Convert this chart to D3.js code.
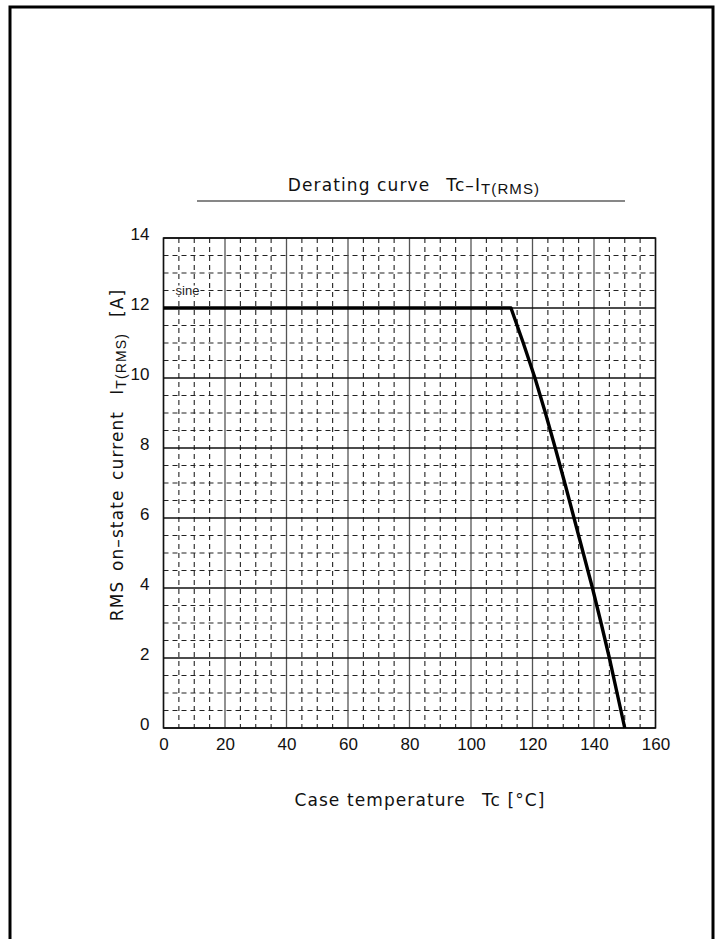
<!DOCTYPE html>
<html><head><meta charset="utf-8">
<script src="https://cdn.jsdelivr.net/npm/d3@7"></script>
<style>body{margin:0;background:#fff}svg{display:block}</style>
</head><body>
<script>
const tempC = [0, 113, 117, 120.8, 124.2, 127.4, 130.5, 133.5, 136.5, 139.5, 142.3, 145, 147.5, 150];
const currentA = [12, 12, 11, 10, 9, 8, 7, 6, 5, 4, 3, 2, 1, 0];
const xTicks = [0, 20, 40, 60, 80, 100, 120, 140, 160];
const yTicks = [0, 2, 4, 6, 8, 10, 12, 14];
const seriesLabel = "sine";

const W = 722, H = 939;
const svg = d3.select("body").append("svg").attr("width", W).attr("height", H);
const font = "Arial, 'Liberation Sans', sans-serif";
const lfont = "'DejaVu Sans', sans-serif";

// page frame (open at bottom)
svg.append("path").attr("d", "M10,939 V7 H713 V939").attr("fill", "none").attr("stroke", "#000").attr("stroke-width", 3);

const x = d3.scaleLinear().domain([0, 160]).range([163.5, 655.5]);
const y = d3.scaleLinear().domain([0, 14]).range([728, 238]);

const g = svg.append("g");
// minor dashed grid
const xMinor = d3.range(0, 161, 5).filter(v => v % 20 !== 0);
const yMinor = d3.range(0, 14.01, 0.5).filter(v => v % 2 !== 0);
g.selectAll(".vmin").data(xMinor).join("line")
  .attr("x1", d => x(d)).attr("x2", d => x(d)).attr("y1", y(14)).attr("y2", y(0))
  .attr("stroke", "#222").attr("stroke-width", 1.1).attr("stroke-dasharray", "5,4");
g.selectAll(".hmin").data(yMinor).join("line")
  .attr("x1", x(0)).attr("x2", x(160)).attr("y1", d => y(d)).attr("y2", d => y(d))
  .attr("stroke", "#222").attr("stroke-width", 1.1).attr("stroke-dasharray", "5,4");
// major grid
g.selectAll(".vmaj").data(xTicks).join("line")
  .attr("x1", d => x(d)).attr("x2", d => x(d)).attr("y1", y(14)).attr("y2", y(0))
  .attr("stroke", "#555").attr("stroke-width", 1.3);
g.selectAll(".hmaj").data(yTicks).join("line")
  .attr("x1", x(0)).attr("x2", x(160)).attr("y1", d => y(d)).attr("y2", d => y(d))
  .attr("stroke", "#111").attr("stroke-width", 1.3);
// frame
g.append("rect").attr("x", x(0)).attr("y", y(14)).attr("width", x(160) - x(0)).attr("height", y(0) - y(14))
  .attr("fill", "none").attr("stroke", "#111").attr("stroke-width", 1.5);

// axes labels
const xAxis = d3.axisBottom(x).tickValues(xTicks).tickSize(0).tickPadding(10);
const xa = svg.append("g").attr("transform", `translate(0,${y(0)})`).call(xAxis);
xa.select(".domain").remove();
xa.selectAll("text").attr("font-family", font).attr("font-size", 17).attr("fill", "#111");
const yAxis = d3.axisLeft(y).tickValues(yTicks).tickSize(0).tickPadding(14);
const ya = svg.append("g").attr("transform", `translate(${x(0)},0)`).call(yAxis);
ya.select(".domain").remove();
ya.selectAll("text").attr("font-family", font).attr("font-size", 17).attr("fill", "#111").attr("dy", "0.1em");

// series label
const lg = svg.append("g");
const bgRect = lg.append("rect").attr("fill", "#fff");
const lbl = lg.append("text").attr("x", x(7.8)).attr("y", y(12.5) + 4).attr("text-anchor", "middle")
  .attr("font-family", font).attr("font-size", 13).attr("fill", "#222").text(seriesLabel);
const bb = lbl.node().getBBox();
bgRect.attr("x", bb.x - 1).attr("y", bb.y + 3).attr("width", bb.width + 2).attr("height", bb.height - 5);

// curve
const pts = tempC.map((t, i) => [t, currentA[i]]);
svg.append("path").datum(pts)
  .attr("d", d3.line().x(d => x(d[0])).y(d => y(d[1])))
  .attr("fill", "none").attr("stroke", "#000").attr("stroke-width", 3.4).attr("stroke-linejoin", "round");

// title
const title = svg.append("text").attr("x", 414).attr("y", 191).attr("text-anchor", "middle")
  .attr("font-family", lfont).attr("font-size", 17).attr("letter-spacing", 1.1).attr("fill", "#111");
title.append("tspan").text("Derating curve\u2002 Tc\u2013I");
title.append("tspan").attr("font-size", 15).attr("dy", 3).attr("font-family", font).text("T(RMS)");
svg.append("line").attr("x1", 197).attr("x2", 625).attr("y1", 201).attr("y2", 201).attr("stroke", "#111").attr("stroke-width", 1.2);

// x label
const xl = svg.append("text").attr("x", 420).attr("y", 806).attr("text-anchor", "middle")
  .attr("font-family", lfont).attr("font-size", 17).attr("letter-spacing", 1.1).attr("fill", "#111");
xl.text("Case temperature\u2002 Tc [\u00B0C]");

// y label
const yl = svg.append("text").attr("transform", "translate(123,455) rotate(-90)").attr("text-anchor", "middle")
  .attr("font-family", lfont).attr("font-size", 17).attr("letter-spacing", 1.1).attr("fill", "#111");
yl.append("tspan").text("RMS\u2002on\u2013state\u2002current\u2002 I");
yl.append("tspan").attr("font-size", 14).attr("dy", 3).attr("font-family", font).text("T(RMS)");
yl.append("tspan").attr("dy", -3).text("\u2002 [A]");
</script>
</body></html>
